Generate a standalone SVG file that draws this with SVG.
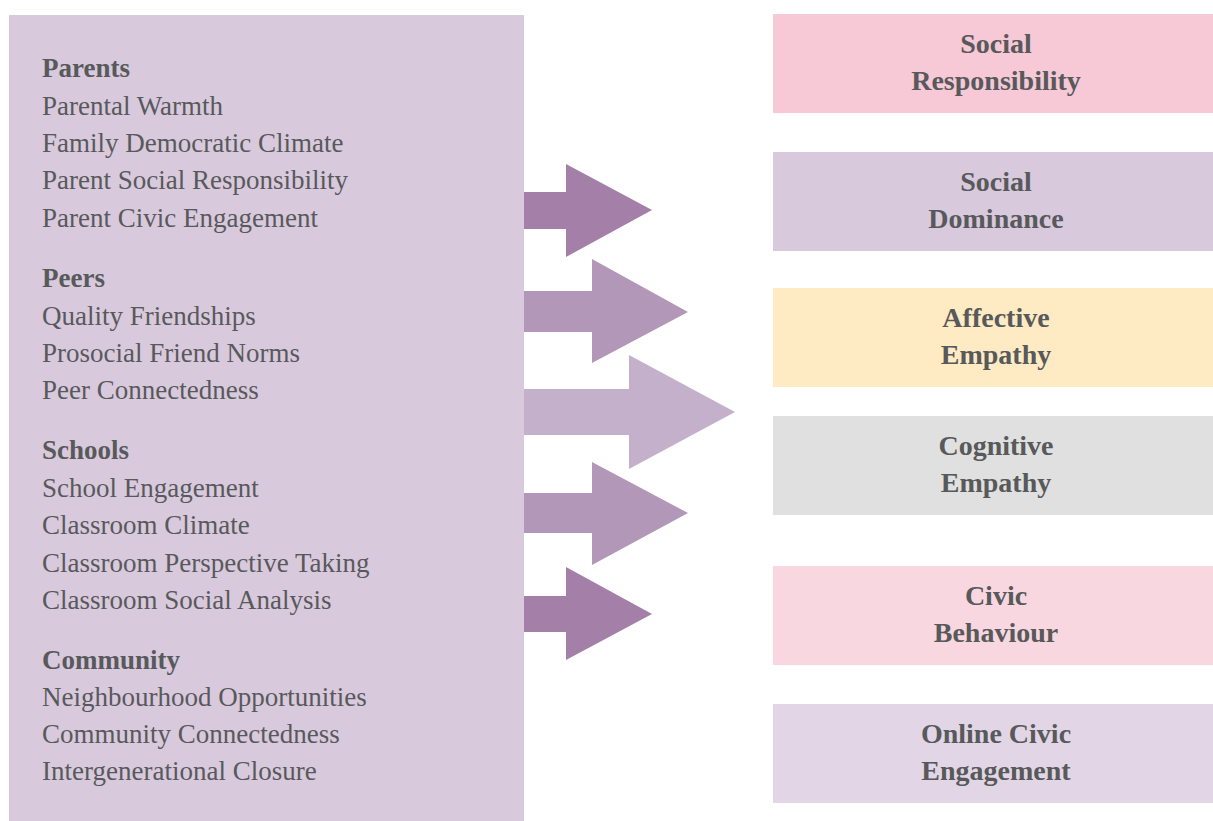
<svg xmlns="http://www.w3.org/2000/svg" width="1213" height="821" viewBox="0 0 1213 821">
<style>
text{font-family:"Liberation Serif","DejaVu Serif",serif;fill:#58595b;font-size:27px}
.h{font-weight:bold}
.t{font-weight:bold;text-anchor:middle;font-size:28px}
</style>
<rect width="1213" height="821" fill="#ffffff"/>
<g id="sources">
<rect x="9" y="15" width="515" height="806" fill="#d8c9dd"/>
<text class="h" x="42" y="77">Parents</text>
<text x="42" y="115">Parental Warmth</text>
<text x="42" y="152">Family Democratic Climate</text>
<text x="42" y="189">Parent Social Responsibility</text>
<text x="42" y="227">Parent Civic Engagement</text>
<text class="h" x="42" y="287">Peers</text>
<text x="42" y="325">Quality Friendships</text>
<text x="42" y="362">Prosocial Friend Norms</text>
<text x="42" y="399">Peer Connectedness</text>
<text class="h" x="42" y="459">Schools</text>
<text x="42" y="497">School Engagement</text>
<text x="42" y="534">Classroom Climate</text>
<text x="42" y="572">Classroom Perspective Taking</text>
<text x="42" y="609">Classroom Social Analysis</text>
<text class="h" x="42" y="669">Community</text>
<text x="42" y="706">Neighbourhood Opportunities</text>
<text x="42" y="743">Community Connectedness</text>
<text x="42" y="780">Intergenerational Closure</text>
</g>
<g id="connectors">
<polygon points="524,192 566,192 566,164 652,210 566,257 566,229 524,229" fill="#a47fa8"/>
<polygon points="524,291 592,291 592,259 688,312 592,363 592,332 524,332" fill="#b397b8"/>
<polygon points="524,389 629,389 629,355 735,412 629,469 629,435 524,435" fill="#c5b0cc"/>
<polygon points="524,493 592,493 592,462 688,513 592,565 592,533 524,533" fill="#b397b8"/>
<polygon points="524,596 566,596 566,567 652,614 566,660 566,632 524,632" fill="#a47fa8"/>
</g>
<g id="social-responsibility">
<rect x="773" y="14" width="440" height="99" fill="#f7c8d6"/>
<text class="t" x="996" y="53">Social</text>
<text class="t" x="996" y="90">Responsibility</text>
</g>
<g id="social-dominance">
<rect x="773" y="152" width="440" height="99" fill="#d8c9dd"/>
<text class="t" x="996" y="191">Social</text>
<text class="t" x="996" y="228">Dominance</text>
</g>
<g id="affective-empathy">
<rect x="773" y="288" width="440" height="99" fill="#feebc3"/>
<text class="t" x="996" y="327">Affective</text>
<text class="t" x="996" y="364">Empathy</text>
</g>
<g id="cognitive-empathy">
<rect x="773" y="416" width="440" height="99" fill="#e0e0e0"/>
<text class="t" x="996" y="455">Cognitive</text>
<text class="t" x="996" y="492">Empathy</text>
</g>
<g id="civic-behaviour">
<rect x="773" y="566" width="440" height="99" fill="#f8d7e0"/>
<text class="t" x="996" y="605">Civic</text>
<text class="t" x="996" y="642">Behaviour</text>
</g>
<g id="online-civic-engagement">
<rect x="773" y="704" width="440" height="99" fill="#e2d6e6"/>
<text class="t" x="996" y="743">Online Civic</text>
<text class="t" x="996" y="780">Engagement</text>
</g>
</svg>
